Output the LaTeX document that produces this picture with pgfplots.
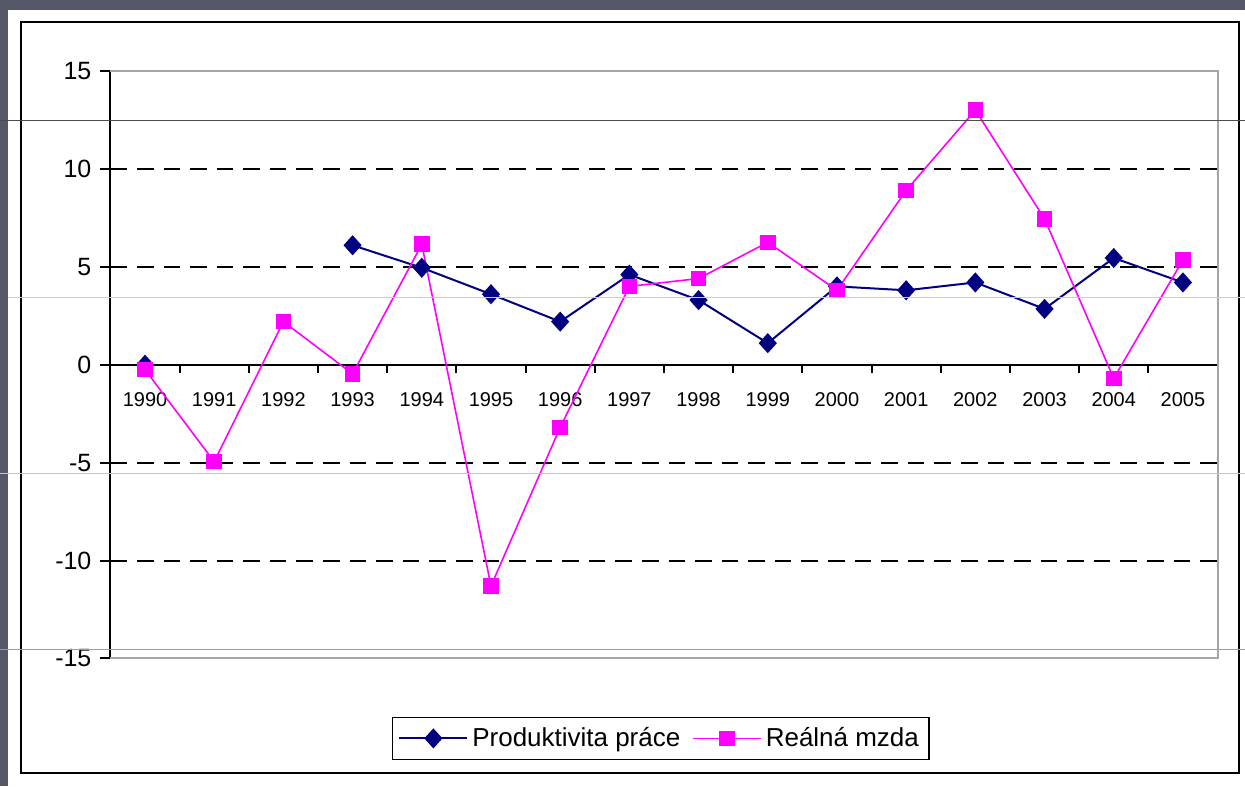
\documentclass[border=0pt]{standalone}
\usepackage{fontspec}
\setmainfont{Liberation Sans}
\usepackage{pgfplots}
\pgfplotsset{compat=1.18}
\definecolor{slate}{HTML}{555869}
\definecolor{navy}{HTML}{000080}
\definecolor{mag}{HTML}{FF00FF}
\begin{document}
\begin{tikzpicture}
\fill[slate] (0,0) rectangle (622.5pt,-393.5pt);
\fill[white] (4pt,-5pt) rectangle (622.5pt,-393.5pt);
\draw[black, line width=1pt] (10.5pt,-11pt) rectangle (619.5pt,-387pt);
\begin{axis}[
  at={(55pt,-329.5pt)}, anchor=south west,
  scale only axis, width=554pt, height=294pt,
  xmin=-0.5, xmax=15.5, ymin=-15, ymax=15,
  axis x line=middle, axis y line=left,
  axis line style={-, black, line width=1pt},
  hide obscured x ticks=false, hide obscured y ticks=false,
  xtick={0,...,15},
  xticklabels={1990,1991,1992,1993,1994,1995,1996,1997,1998,1999,2000,2001,2002,2003,2004,2005},
  minor xtick={0.5,1.5,...,15.5},
  ytick={-15,-10,...,15},
  tick align=outside,
  major x tick style={draw=none},
  minor tick length=4pt,
  major tick length=5pt,
  tick style={black, line width=1pt},
  xticklabel style={font=\fontsize{10pt}{12pt}\selectfont, yshift=-5.5pt},
  yticklabel style={font=\fontsize{12.5pt}{14pt}\selectfont, xshift=-1pt},
  /pgf/number format/assume math mode=true,
  unbounded coords=jump,
  legend columns=2,
  legend style={at={(0.497,-0.136)}, anchor=center, draw=black, line width=0.8pt,
    font=\fontsize{13pt}{15pt}\selectfont, inner sep=3pt,
    /tikz/every even column/.append style={column sep=4pt}},
  legend image code/.code={\draw[mark repeat=2,mark phase=2] plot coordinates {(0pt,0pt) (17pt,0pt) (34pt,0pt)};},
  clip=false,
]
\draw[gray!70, line width=1pt] (rel axis cs:0,0) -- (rel axis cs:1,0) -- (rel axis cs:1,1) -- (rel axis cs:0,1);
\foreach \yy in {-10,-5,5,10} {
  \edef\temp{\noexpand\draw[black, line width=1pt, dash pattern=on 8.3pt off 5pt] (axis cs:-0.5,\yy) -- (axis cs:15.5,\yy);}
  \temp
}
\addplot[navy, line width=1pt, mark=diamond*, mark size=4.3pt, mark options={solid, fill=navy, xscale=1.2}] coordinates {
(0,0) (1,nan) (2,nan) (3,6.1) (4,4.95) (5,3.6) (6,2.2) (7,4.6) (8,3.3) (9,1.1) (10,4.0) (11,3.8) (12,4.2) (13,2.85) (14,5.45) (15,4.2)
};
\addlegendentry{Produktivita práce}
\addplot[mag, line width=0.8pt, mark=square*, mark size=3.5pt, mark options={solid, fill=mag}] coordinates {
(0,-0.25) (1,-4.95) (2,2.2) (3,-0.47) (4,6.15) (5,-11.3) (6,-3.2) (7,4.0) (8,4.4) (9,6.25) (10,3.8) (11,8.9) (12,13.0) (13,7.45) (14,-0.7) (15,5.35)
};
\addlegendentry{Reálná mzda}
\end{axis}
\draw[black!70, line width=0.5pt] (0,-60.5pt) -- (622.5pt,-60.5pt);
\draw[black!20, line width=0.5pt] (4pt,-149pt) -- (622.5pt,-149pt);
\draw[slate!35, line width=0.5pt] (0,-237pt) -- (622.5pt,-237pt);
\draw[slate!60, line width=0.5pt] (0,-325pt) -- (622.5pt,-325pt);
\end{tikzpicture}
\end{document}
